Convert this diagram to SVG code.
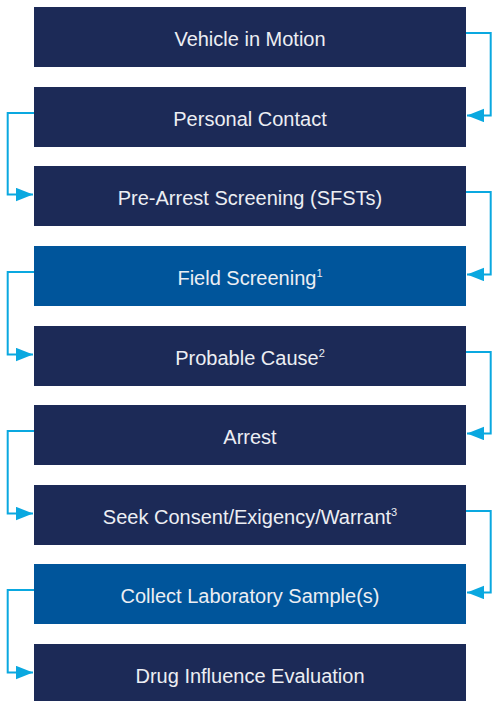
<svg xmlns="http://www.w3.org/2000/svg" width="493" height="701" viewBox="0 0 493 701">
<defs>
<style>
.navy{fill:#1c2a57}
.blue{fill:#00559b}
.lbl{font-family:"Liberation Sans",Arial,sans-serif;font-size:20px;fill:#eceef3;text-anchor:middle}
.sup{font-size:11px}
.conn{fill:none;stroke:#0aa8e0;stroke-width:2}
</style>
<marker id="ah" markerUnits="userSpaceOnUse" markerWidth="18" markerHeight="14" refX="17" refY="6.7" orient="auto">
<path d="M0,0 L17,6.7 L0,13.4 z" fill="#0aa8e0"/>
</marker>
</defs>
<rect width="493" height="701" fill="#ffffff"/>
<g id="connectors">
<path class="conn" marker-end="url(#ah)" d="M466,33 H490.7 V115.5 H467"/>
<path class="conn" marker-end="url(#ah)" d="M34,113 H7.7 V194.5 H33"/>
<path class="conn" marker-end="url(#ah)" d="M466,192 H490.7 V274.5 H467"/>
<path class="conn" marker-end="url(#ah)" d="M34,272 H7.7 V354.5 H33"/>
<path class="conn" marker-end="url(#ah)" d="M466,352 H490.7 V433.5 H467"/>
<path class="conn" marker-end="url(#ah)" d="M34,431 H7.7 V513.5 H33"/>
<path class="conn" marker-end="url(#ah)" d="M466,511 H490.7 V592.5 H467"/>
<path class="conn" marker-end="url(#ah)" d="M34,590 H7.7 V672.5 H33"/>
</g>
<g id="n1"><rect class="navy" x="34" y="7" width="432" height="60"/><text class="lbl" x="250" y="45.5">Vehicle in Motion</text></g>
<g id="n2"><rect class="navy" x="34" y="87" width="432" height="60"/><text class="lbl" x="250" y="125.5">Personal Contact</text></g>
<g id="n3"><rect class="navy" x="34" y="166" width="432" height="60"/><text class="lbl" x="250" y="204.5">Pre-Arrest Screening (SFSTs)</text></g>
<g id="n4"><rect class="blue" x="34" y="246" width="432" height="60"/><text class="lbl" x="250" y="284.5">Field Screening<tspan class="sup" dy="-8">1</tspan></text></g>
<g id="n5"><rect class="navy" x="34" y="326" width="432" height="60"/><text class="lbl" x="250" y="364.5">Probable Cause<tspan class="sup" dy="-8">2</tspan></text></g>
<g id="n6"><rect class="navy" x="34" y="405" width="432" height="60"/><text class="lbl" x="250" y="443.5">Arrest</text></g>
<g id="n7"><rect class="navy" x="34" y="485" width="432" height="60"/><text class="lbl" x="250" y="523.5">Seek Consent/Exigency/Warrant<tspan class="sup" dy="-8">3</tspan></text></g>
<g id="n8"><rect class="blue" x="34" y="564" width="432" height="60"/><text class="lbl" x="250" y="602.5">Collect Laboratory Sample(s)</text></g>
<g id="n9"><rect class="navy" x="34" y="644" width="432" height="60"/><text class="lbl" x="250" y="682.5">Drug Influence Evaluation</text></g>
</svg>
